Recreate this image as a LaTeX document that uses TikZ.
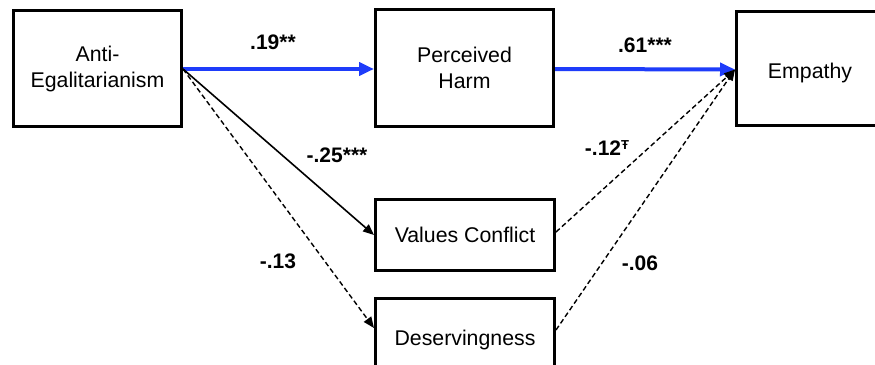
\documentclass[tikz,border=0pt]{standalone}
\usepackage{fontspec}
\setmainfont{Liberation Sans}
\usetikzlibrary{arrows.meta}
\definecolor{pathblue}{RGB}{30,60,250}
\tikzset{
  box/.style={draw=black, line width=3pt, rectangle, inner sep=0pt, align=center,
    font=\fontsize{21.3}{26}\selectfont},
  boxtext/.style={inner sep=0pt, font=\fontsize{21.3}{26}\selectfont},
  lbl/.style={inner sep=0pt, font=\fontsize{21}{25}\selectfont\bfseries},
  bluearrow/.style={draw=pathblue, line width=4pt, -{Triangle[length=15pt,width=13pt]}},
  solidarrow/.style={draw=black, line width=1.6pt, -{Triangle[length=11pt,width=9pt]}},
  dasharrow/.style={draw=black, line width=1.4pt, dash pattern=on 5pt off 3pt, -{Triangle[length=11pt,width=9pt]}},
}
\begin{document}
\begin{tikzpicture}[x=1pt, y=-1pt]
\clip (0,0) rectangle (875,364);
\fill[white] (0,0) rectangle (875,364);
\node[box, minimum width=168pt, minimum height=116pt] (ae) at (97.5,68.5) {Anti-\\Egalitarianism};
\node[box, minimum width=178pt, minimum height=117pt] (ph) at (464.5,68) {Perceived\\Harm};
\node[box, minimum width=147pt, minimum height=114pt] (em) at (810,68.5) {};
\node[boxtext] (emt) at ([yshift=-4pt]em.center) {Empathy};
\node[box, minimum width=179pt, minimum height=71pt] (vc) at (465,235) {Values Conflict};
\node[box, minimum width=179pt, minimum height=83pt] (ds) at (465,340) {Deservingness};
\coordinate (aeout) at ([yshift=-0.5pt]ae.east);
\draw[bluearrow] (aeout) -- (aeout -| ph.west);
\draw[bluearrow] ([yshift=-1pt]ph.east) -- ([yshift=-1pt]em.west);
\draw[solidarrow] (aeout) -- (vc.west);
\draw[dasharrow] (aeout) -- ([yshift=12pt]ds.west);
\draw[dasharrow] ([yshift=3pt]vc.east) -- ([yshift=-1pt]em.west);
\draw[dasharrow] ([yshift=10pt]ds.east) -- ([yshift=-1pt]em.west);
\node[lbl] (l1) at (273,42) {.19**};
\node[lbl] (l2) at (337,155) {-.25***};
\node[lbl] (l3) at (278,261) {-.13};
\node[lbl] (l4) at (645,45) {.61***};
\node[lbl] (l5) at (607,148) {-.12\raisebox{6pt}{\fontsize{13}{13}\selectfont Ŧ}};
\node[lbl] (l6) at (640,263) {-.06};
\end{tikzpicture}
\end{document}
